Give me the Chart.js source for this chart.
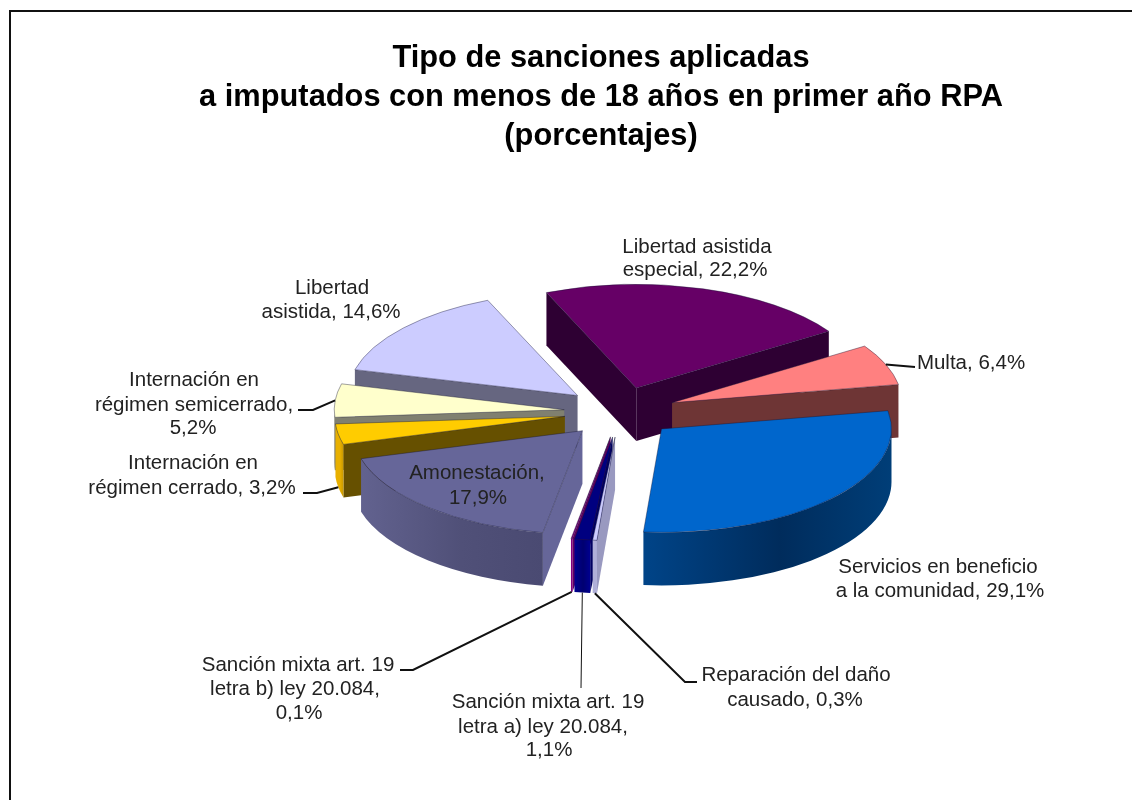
<!DOCTYPE html>
<html>
<head>
<meta charset="utf-8">
<title>Tipo de sanciones aplicadas</title>
<script src="https://cdn.jsdelivr.net/npm/chart.js@4"></script>
<style>
    html, body { margin: 0; padding: 0; background: #fff; overflow: hidden; }
    #marco { position: absolute; left: 9px; top: 10px; width: 1123px; height: 790px; border-left: 2px solid #111; border-top: 2px solid #111; box-sizing: border-box; }
    #grafico { position: absolute; left: 0; top: 0; }
</style>
</head>
<body>
<div id="marco"></div>
<canvas id="grafico" width="1132" height="800"></canvas>
<script>
// Datos
const titleLines = ["Tipo de sanciones aplicadas", "a imputados con menos de 18 años en primer año RPA", "(porcentajes)"];
const categories = [
    "Libertad asistida especial",
    "Multa",
    "Servicios en beneficio a la comunidad",
    "Reparación del daño causado",
    "Sanción mixta art. 19 letra a) ley 20.084",
    "Sanción mixta art. 19 letra b) ley 20.084",
    "Amonestación",
    "Internación en régimen cerrado",
    "Internación en régimen semicerrado",
    "Libertad asistida"
];
const values = [22.2, 6.4, 29.1, 0.3, 1.1, 0.1, 17.9, 3.2, 5.2, 14.6];
const labelLines = [
    ["Libertad asistida", "especial, 22,2%"],
    ["Multa, 6,4%"],
    ["Servicios en beneficio", "a la comunidad, 29,1%"],
    ["Reparación del daño", "causado, 0,3%"],
    ["Sanción mixta art. 19", "letra a) ley 20.084,", "1,1%"],
    ["Sanción mixta art. 19", "letra b) ley 20.084,", "0,1%"],
    ["Amonestación,", "17,9%"],
    ["Internación en", "régimen cerrado, 3,2%"],
    ["Internación en", "régimen semicerrado,", "5,2%"],
    ["Libertad", "asistida, 14,6%"]
];

// Colores
const topColors = ["#660066", "#FF8080", "#0066CC", "#CCCCFF", "#000080", "#800080", "#666699", "#FFCC00", "#FFFFCC", "#CCCCFF"];
const sideColors = ["#2E0033", "#6E3535", "#003366", "#9999C0", "#000060", "#600060", "#666699", "#665000", "#808070", "#666680"];
const rimColors = [
    ["#330033", "#330033", "#330033"],
    ["#6E3535", "#6E3535", "#6E3535"],
    ["#004488", "#002C5C", "#003E78"],
    ["#B0B0D8", "#B0B0D8", "#B0B0D8"],
    ["#000090", "#000070", "#000090"],
    ["#800080", "#800080", "#800080"],
    ["#62628F", "#505078", "#4A4A72"],
    ["#E8B000", "#E8B000", "#C89800"],
    ["#808070", "#808070", "#808070"],
    ["#666680", "#666680", "#666680"]
];

// Geometria del pastel en perspectiva
const squash = 0.45;
const depth = 53;
const explode = 56;
const pieShiftX = 19;

// Posicion de las etiquetas: centro x e y de cada linea
const labelX = [[697, 695], [971], [938, 940], [796, 795], [548, 543, 549], [298, 295, 299], [477, 478], [193, 192], [194, 194, 193], [332, 331]];
const labelY = [[247, 270], [363], [567, 591], [675, 700], [702, 727, 750], [665, 689, 713], [473, 498], [463, 488], [380, 405, 428], [288, 312]];

// Lineas guia: indice de categoria, sale del borde (con o sin pared) y sigue por los puntos
const leaders = [
    { index: 1, wall: false, width: 2, points: [[915, 367]] },
    { index: 8, wall: false, width: 2, points: [[313, 410], [298, 410]] },
    { index: 7, wall: true, width: 2, points: [[317, 493], [303, 493]] },
    { index: 5, wall: true, width: 2, points: [[413, 670], [400, 670]] },
    { index: 4, wall: true, width: 1, points: [[581, 688]] },
    { index: 3, wall: true, width: 2, points: [[685, 682], [697, 682]] }
];

function squashAround(ctx, x, y) {
    ctx.translate(pieShiftX, 0);
    ctx.translate(x, y);
    ctx.scale(1, squash);
    ctx.translate(-x, -y);
}

function drawSlice(ctx, arc, i) {
    const a0 = arc.startAngle, a1 = arc.endAngle, r = arc.outerRadius, x = arc.x, y = arc.y;
    const mid = (a0 + a1) / 2;
    const dz = depth / squash;

    ctx.save();
    squashAround(ctx, x, y);
    ctx.translate(Math.cos(mid) * explode, Math.sin(mid) * explode);

    // paredes radiales que miran hacia adelante
    [a0, a1].forEach((a, n) => {
        const visible = n === 0 ? Math.cos(a) < 0 : Math.cos(a) > 0;
        if (!visible) return;
        ctx.beginPath();
        ctx.moveTo(x, y);
        ctx.lineTo(x + Math.cos(a) * r, y + Math.sin(a) * r);
        ctx.lineTo(x + Math.cos(a) * r, y + Math.sin(a) * r + dz);
        ctx.lineTo(x, y + dz);
        ctx.closePath();
        ctx.fillStyle = sideColors[i];
        ctx.fill();
    });

    // pared exterior, solo la mitad frontal
    const from = Math.max(a0, 0), to = Math.min(a1, Math.PI);
    if (to > from) {
        const grad = ctx.createLinearGradient(x + Math.cos(to) * r, 0, x + Math.cos(from) * r, 0);
        grad.addColorStop(0, rimColors[i][0]);
        grad.addColorStop(0.55, rimColors[i][1]);
        grad.addColorStop(1, rimColors[i][2]);
        ctx.beginPath();
        ctx.arc(x, y, r, from, to);
        ctx.arc(x, y + dz, r, to, from, true);
        ctx.closePath();
        ctx.fillStyle = grad;
        ctx.fill();
    }

    // la cara superior la dibuja el propio arco de Chart.js
    arc.draw(ctx);
    ctx.restore();
}

const pie3d = {
    id: 'pie3d',
    beforeDatasetDraw(chart, args) {
        const arcs = args.meta.data;
        const order = arcs.map((arc, i) => i).sort((p, q) => {
            const sin = k => Math.sin((arcs[k].startAngle + arcs[k].endAngle) / 2);
            return sin(p) - sin(q);
        });
        order.forEach(i => drawSlice(chart.ctx, arcs[i], i));
        return false;
    },
    afterDraw(chart) {
        const ctx = chart.ctx;
        const arcs = chart.getDatasetMeta(0).data;

        ctx.save();
        ctx.strokeStyle = '#111';
        leaders.forEach(l => {
            const arc = arcs[l.index];
            const mid = (arc.startAngle + arc.endAngle) / 2;
            const reach = arc.outerRadius + explode;
            ctx.lineWidth = l.width;
            ctx.beginPath();
            ctx.moveTo(arc.x + pieShiftX + Math.cos(mid) * reach, arc.y + Math.sin(mid) * reach * squash + (l.wall ? depth : 0));
            l.points.forEach(p => ctx.lineTo(p[0], p[1]));
            ctx.stroke();
        });

        ctx.fillStyle = '#222';
        ctx.font = '20.5px "Liberation Sans", Arial, sans-serif';
        ctx.textAlign = 'center';
        ctx.textBaseline = 'middle';
        labelLines.forEach((lines, i) => {
            lines.forEach((line, n) => ctx.fillText(line, labelX[i][n], labelY[i][n]));
        });
        ctx.restore();
    }
};

new Chart(document.getElementById('grafico'), {
    type: 'pie',
    data: {
        labels: categories,
        datasets: [{
            data: values,
            backgroundColor: topColors,
            borderColor: 'rgba(20, 20, 50, 0.55)',
            borderWidth: 1,
            hoverOffset: 0,
            clip: false
        }]
    },
    options: {
        responsive: false,
        animation: false,
        events: [],
        radius: 230,
        rotation: -23,
        layout: { padding: { left: 70, bottom: 132 } },
        plugins: {
            legend: { display: false },
            tooltip: { enabled: false },
            title: {
                display: true,
                text: titleLines,
                color: '#000',
                font: { family: '"Liberation Sans", Arial, sans-serif', size: 30.8, weight: 'bold', lineHeight: 1.266 },
                padding: { top: 39, bottom: 0 }
            }
        }
    },
    plugins: [pie3d]
});
</script>
</body>
</html>
